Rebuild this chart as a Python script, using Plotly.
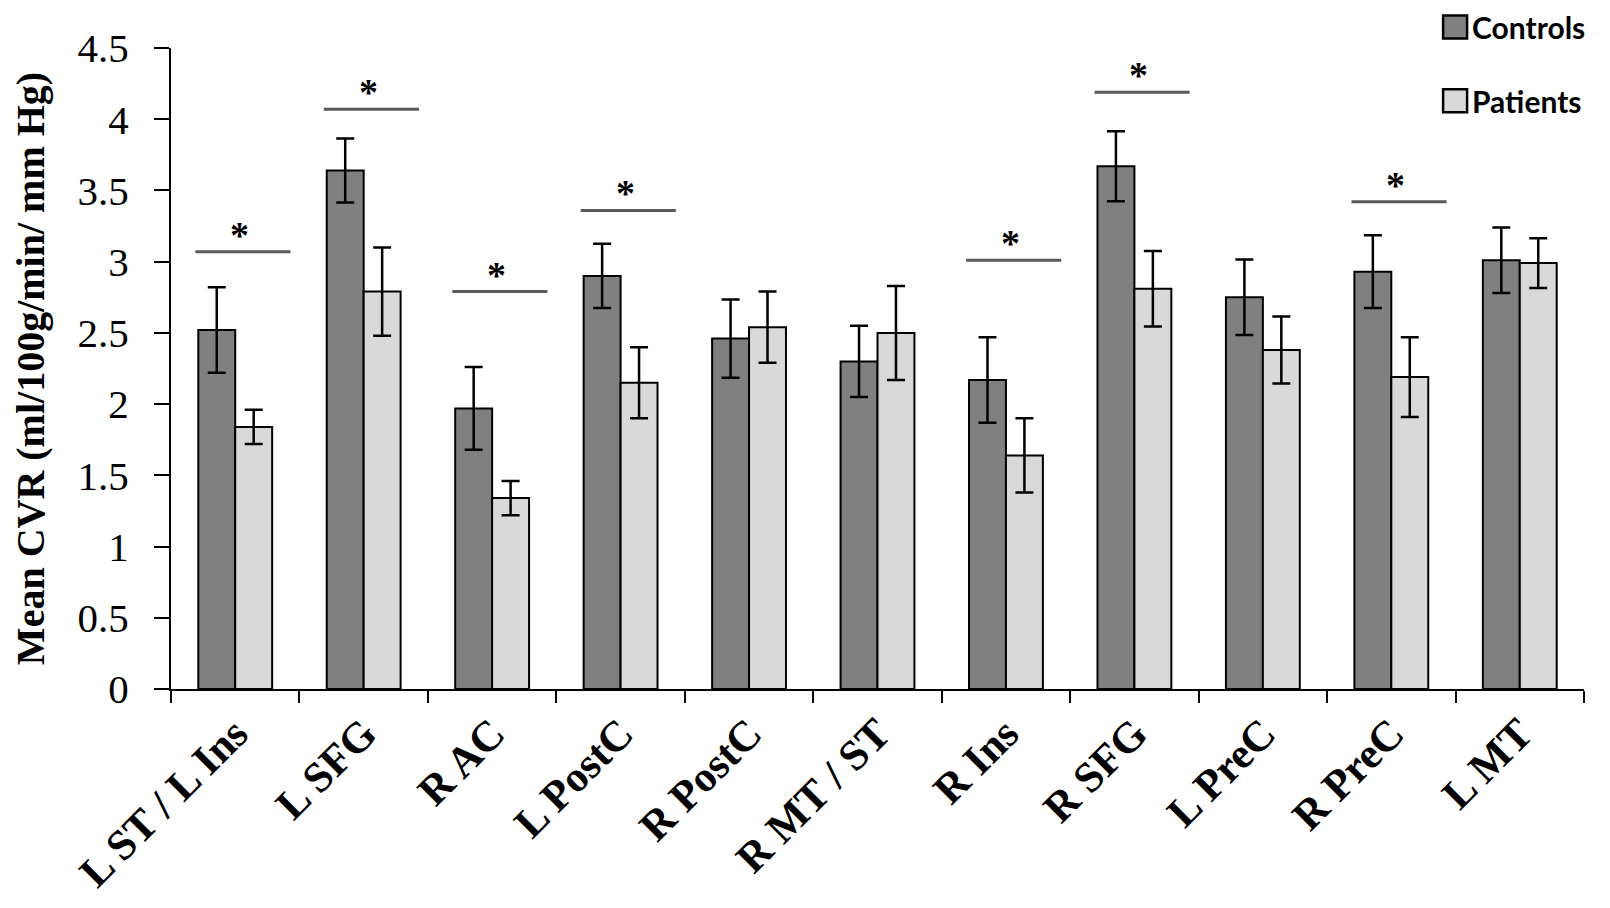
import plotly.graph_objects as go

# regional cerebrovascular reactivity, mean +/- error
regions = ["L ST / L Ins", "L SFG", "R AC", "L PostC", "R PostC", "R MT / ST",
           "R Ins", "R SFG", "L PreC", "R PreC", "L MT"]
controls = [2.52, 3.64, 1.97, 2.90, 2.46, 2.30, 2.17, 3.67, 2.75, 2.93, 3.01]
controls_err = [0.30, 0.225, 0.29, 0.225, 0.275, 0.25, 0.30, 0.245, 0.265, 0.255, 0.23]
patients = [1.84, 2.79, 1.34, 2.15, 2.54, 2.50, 1.64, 2.81, 2.38, 2.19, 2.99]
patients_err = [0.12, 0.31, 0.12, 0.25, 0.25, 0.33, 0.26, 0.265, 0.235, 0.28, 0.175]

# significance markers (*)
sig_regions = ["L ST / L Ins", "L SFG", "R AC", "L PostC", "R Ins", "R SFG", "R PreC"]
sig_heights = [3.07, 4.07, 2.79, 3.36, 3.01, 4.19, 3.42]

series_names = ["Controls", "Patients"]
series_colors = ["#808080", "#d9d9d9"]

# the page body has an 8px margin, so the figure is drawn 8px smaller
W, H = 1602, 900
ML, MR, MT, MB = 162, 26, 40, 217
SERIF = "Liberation Serif, Times New Roman, serif"


def px_to_paper(x, y):
    return (x - ML) / (W - ML - MR), (H - MB - y) / (H - MT - MB)


fig = go.Figure()
for name, vals, errs, col in [(series_names[0], controls, controls_err, series_colors[0]),
                              (series_names[1], patients, patients_err, series_colors[1])]:
    fig.add_bar(x=regions, y=vals, name=name, showlegend=False,
                marker=dict(color=col, line=dict(color="black", width=2)),
                error_y=dict(type="data", array=errs, color="black", thickness=2.5, width=9))

for reg, h in zip(sig_regions, sig_heights):
    i = regions.index(reg)
    fig.add_shape(type="line", xref="x", yref="y", x0=i - 0.31, x1=i + 0.43, y0=h, y1=h,
                  line=dict(color="#5a5a5a", width=3))
    fig.add_annotation(x=i + 0.035, y=h, xref="x", yref="y", text="<b>*</b>", showarrow=False,
                       yanchor="bottom", yshift=-6, font=dict(family=SERIF, size=38, color="black"))

# legend drawn by hand (squares + labels, top right)
legend_rows = [19, 93]
for name, col, yc in zip(series_names, series_colors, legend_rows):
    x0, y0 = px_to_paper(1435, yc - 11.5)
    x1, y1 = px_to_paper(1459, yc + 11.5)
    fig.add_shape(type="rect", xref="paper", yref="paper", x0=x0, x1=x1, y0=y1, y1=y0,
                  fillcolor=col, line=dict(color="black", width=2.5))
    tx, ty = px_to_paper(1463, yc)
    fig.add_annotation(x=tx, y=ty, xref="paper", yref="paper", text="<b>" + name + "</b>",
                       showarrow=False, xanchor="left", yanchor="middle", borderpad=0,
                       font=dict(family="Lato", size=30, color="black"))

fig.update_layout(
    width=W, height=H, margin=dict(l=ML, r=MR, t=MT, b=MB),
    plot_bgcolor="white", paper_bgcolor="white",
    barmode="group", bargap=0.425, bargroupgap=0,
    font=dict(family=SERIF, color="black"),
)
fig.update_xaxes(showline=True, linecolor="black", linewidth=2, ticks="outside", tickson="boundaries",
                 ticklen=12, tickwidth=2, tickcolor="black", tickangle=-45, showgrid=False,
                 tickfont=dict(family=SERIF, size=43), tickprefix="<b>", ticksuffix="</b>")
fig.update_yaxes(range=[0, 4.5], dtick=0.5, showline=True, linecolor="black", linewidth=2,
                 ticks="outside", ticklen=15, tickwidth=2, tickcolor="black", showgrid=False,
                 zeroline=False, ticklabelstandoff=17, tickfont=dict(family=SERIF, size=41),
                 title=dict(text="<b>Mean CVR (ml/100g/min/ mm Hg)</b>", standoff=30,
                            font=dict(family=SERIF, size=40)))

fig.write_html("out.html")
